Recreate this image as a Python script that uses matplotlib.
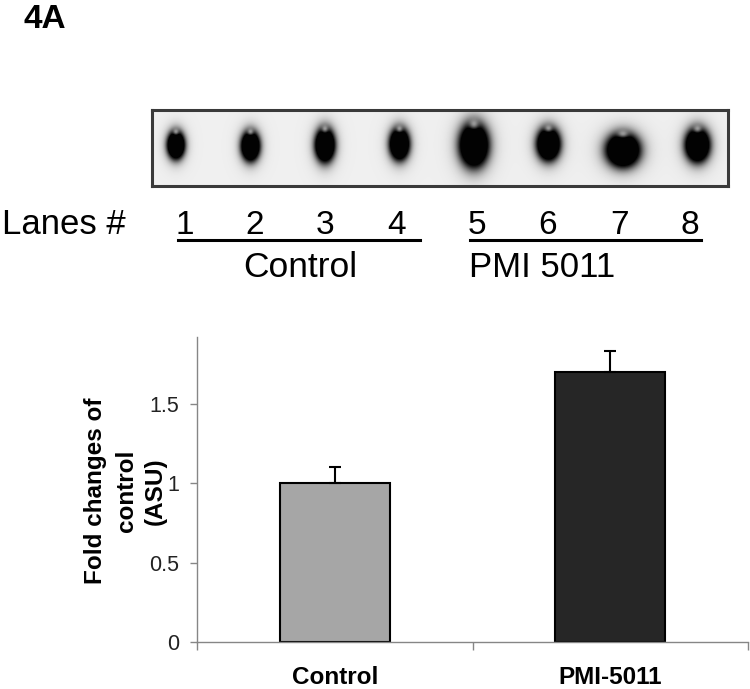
import numpy as np
import matplotlib
matplotlib.use("Agg")
import matplotlib.pyplot as plt
from matplotlib.ticker import FixedLocator

plt.rcParams['font.family'] = ['Liberation Sans', 'DejaVu Sans']

# --- data -------------------------------------------------------------
groups = ["Control", "PMI-5011"]
fold_change = [1.0, 1.70]
fold_err = [0.10, 0.13]
bar_colors = ["#a6a6a6", "#262626"]
y_ticks = [0, 0.5, 1, 1.5]
y_tick_labels = ["0", "0.5", "1", "1.5"]
y_label_lines = ["Fold changes of", "control", "(ASU)"]

lanes = [1, 2, 3, 4, 5, 6, 7, 8]
lane_groups = ["Control", "PMI 5011"]
# dot-blot spot extent per lane (pixels, width x height)
spot_w = [15, 16, 17, 17, 25, 20, 29, 21]
spot_h = [28, 30, 34, 32, 44, 33, 34, 34]
spot_dy = [-3, -2, -3, -4, -3, -4, 2, -3]

W, H = 750, 689
fig = plt.figure(figsize=(W / 100, H / 100), dpi=100)


def fx(px):
    return px / W


def fy(py):
    return 1 - py / H


# panel letter
fig.text(fx(24), fy(28), "4A", fontsize=24, fontweight="bold", va="baseline")

# --- blot strip -------------------------------------------------------
bx0, bx1, by0, by1 = 152, 728, 110, 186
bax = fig.add_axes([fx(bx0), fy(by1), fx(bx1 - bx0), (by1 - by0) / H])
nx, ny = bx1 - bx0, by1 - by0
xx, yy = np.meshgrid(np.arange(nx) + 0.5, np.arange(ny) + 0.5)
img = np.full((ny, nx), 0.94)
lane_w = nx / len(lanes)
for i in range(len(lanes)):
    cx = (i + 0.5) * lane_w - 12 + i * 2.5
    cy = ny / 2 + spot_dy[i]
    a, b = spot_w[i] / 2 * 1.3, spot_h[i] / 2 * 1.12
    r = ((xx - cx) / a) ** 2 + ((yy - cy) / b) ** 2
    dark = 1 / (1 + r ** 3)
    # small notch at the top of each spot
    notch = np.exp(-(((xx - cx) / (a * 0.3)) ** 2 + ((yy - (cy - b * 0.85)) / (b * 0.2)) ** 2))
    dark = dark * (1 - 0.6 * notch)
    img = img * (1 - 0.99 * np.clip(dark * 1.3, 0, 1))
bax.imshow(img, cmap="gray", vmin=0, vmax=1, extent=[0, nx, ny, 0],
           aspect="auto", interpolation="bilinear")
bax.set_xticks([])
bax.set_yticks([])
for s in bax.spines.values():
    s.set_color("#3a3a3a")
    s.set_linewidth(2.2)

# --- lane labels ------------------------------------------------------
lane_x = [185, 255, 325, 397, 477, 548, 619, 690]
fig.text(fx(2), fy(234), "Lanes #", fontsize=25, va="baseline")
for lx, lab in zip(lane_x, lanes):
    fig.text(fx(lx), fy(234), str(lab), fontsize=24, va="baseline", ha="center")
for (x0, x1) in [(178, 420), (470, 701)]:
    fig.add_artist(plt.Line2D([fx(x0), fx(x1)], [fy(239.5), fy(239.5)],
                              color="black", lw=2.2, transform=fig.transFigure))
fig.text(fx(300), fy(277), lane_groups[0], fontsize=25.5, va="baseline", ha="center")
fig.text(fx(469), fy(277), lane_groups[1], fontsize=25, va="baseline", ha="left")

# --- bar chart --------------------------------------------------------
ax = fig.add_axes([fx(197), fy(642), fx(748 - 197), (642 - 337) / H])
x = np.arange(len(groups))
ax.bar(x, fold_change, width=0.4, color=bar_colors, edgecolor="black",
       linewidth=1.5, zorder=2)
ax.errorbar(x, fold_change, yerr=[[0, 0], fold_err], fmt="none",
            ecolor="black", elinewidth=1.5, capsize=4.5, capthick=1.5, zorder=3)
ax.set_xlim(-0.5, 1.5)
ax.set_ylim(0, 1.92)
ax.set_yticks(y_ticks)
ax.set_yticklabels(y_tick_labels, fontsize=15.5, color="#222222")
ax.set_xticks(x)
ax.set_xticklabels(groups, fontsize=17.5, fontweight="bold")
ax.tick_params(axis="x", length=0, pad=17)
ax.xaxis.set_minor_locator(FixedLocator([-0.5, 0.5, 1.5]))
ax.tick_params(axis="x", which="minor", length=6, color="#868686", width=1)
ax.tick_params(axis="y", length=5, color="#868686", width=1, pad=8)
for side in ["top", "right"]:
    ax.spines[side].set_visible(False)
for side in ["left", "bottom"]:
    ax.spines[side].set_color("#868686")
    ax.spines[side].set_linewidth(1)

# three-line y label, one text per line
for lx, line in zip([95, 127, 155], y_label_lines):
    fig.text(fx(lx), fy(491), line, rotation=90, fontsize=17.5,
             fontweight="bold", ha="center", va="center")

fig.savefig("out.png", dpi=100)
